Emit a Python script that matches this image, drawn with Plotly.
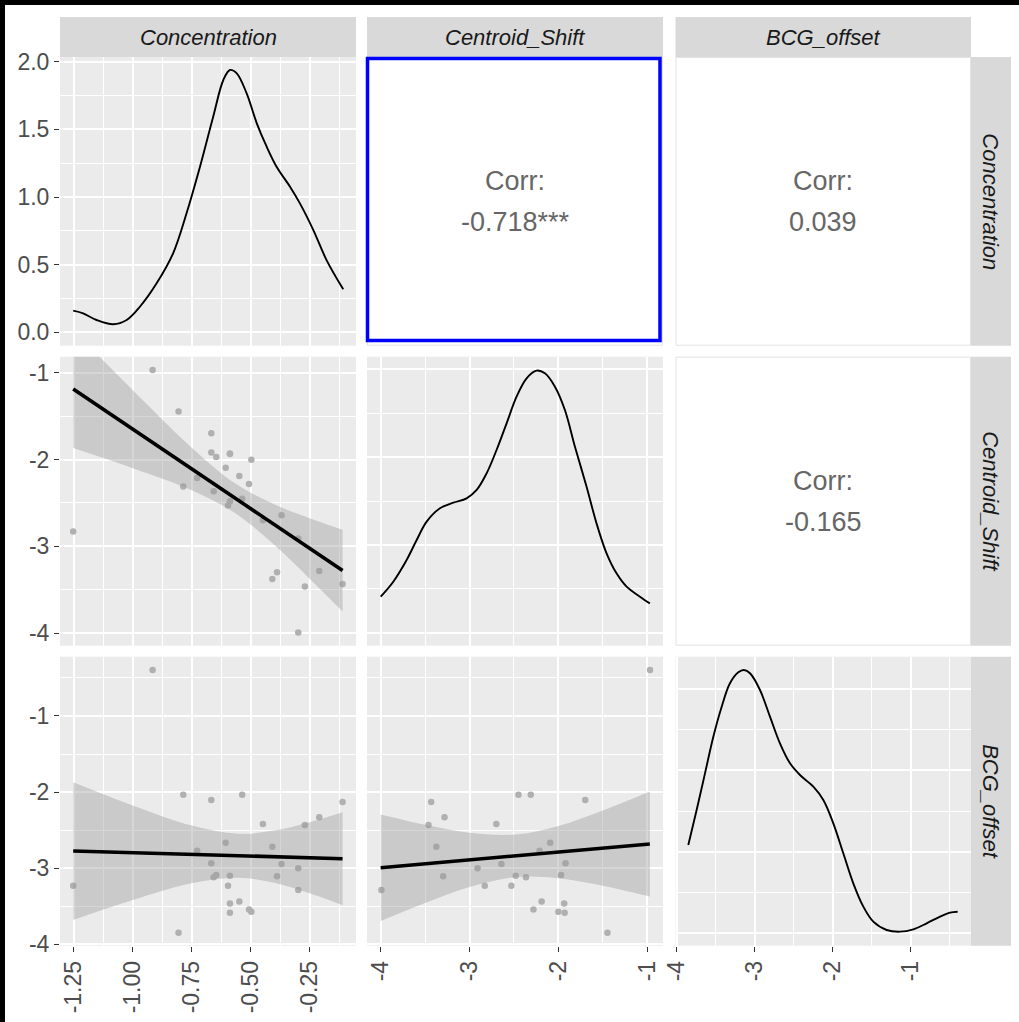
import plotly.graph_objects as go

W, H = 1019, 1022

concentration = [-1.253, -0.916, -0.806, -0.786, -0.727, -0.667, -0.667, -0.657, -0.646,
                 -0.606, -0.596, -0.588, -0.588, -0.588, -0.548, -0.536, -0.507, -0.497,
                 -0.448, -0.408, -0.388, -0.369, -0.298, -0.298, -0.270, -0.209, -0.110]
centroid_shift = [-2.829, -0.969, -1.448, -2.311, -2.212, -1.698, -1.920, -2.365, -1.970,
                  -2.093, -2.530, -1.935, -2.480, -1.930, -2.189, -2.450, -2.281, -2.001,
                  -2.699, -3.374, -3.297, -2.641, -2.910, -3.992, -3.462, -3.282, -3.432]
bcg_offset = [-3.230, -0.396, -3.847, -2.034, -2.770, -2.104, -2.936, -3.120, -3.089,
              -2.665, -3.230, -3.462, -3.098, -3.585, -3.436, -2.034, -3.541, -3.571,
              -2.419, -2.717, -3.107, -2.945, -3.002, -3.287, -2.432, -2.332, -2.130]

# density curves on the diagonal
conc_dens_x = [-1.253, -1.2105, -1.154, -1.083, -1.026, -0.970, -0.899, -0.829, -0.772, -0.715,
               -0.659, -0.616, -0.588, -0.559, -0.517, -0.474, -0.432, -0.390, -0.333, -0.291,
               -0.234, -0.178, -0.107]
conc_dens_y = [0.160, 0.140, 0.091, 0.059, 0.091, 0.189, 0.362, 0.584, 0.880, 1.224,
               1.594, 1.865, 1.939, 1.914, 1.766, 1.545, 1.372, 1.224, 1.076, 0.953,
               0.756, 0.534, 0.318]
cs_dens_x = [-4.000, -3.858, -3.708, -3.595, -3.483, -3.333, -3.183, -3.033, -2.920, -2.808,
             -2.696, -2.583, -2.471, -2.358, -2.246, -2.152, -2.039, -1.927, -1.814, -1.683,
             -1.571, -1.458, -1.346, -1.233, -1.083, -0.971]
cs_dens_y = [0.0821, 0.1162, 0.1656, 0.2112, 0.2529, 0.2833, 0.2962, 0.3061, 0.3251, 0.3630,
             0.4162, 0.4769, 0.5377, 0.5794, 0.5969, 0.5908, 0.5604, 0.5073, 0.4238, 0.3326,
             0.2491, 0.1808, 0.1352, 0.1049, 0.0821, 0.0669]
bcg_dens_x = [-3.851, -3.744, -3.637, -3.530, -3.423, -3.317, -3.210, -3.137, -3.060, -2.932,
              -2.804, -2.676, -2.547, -2.419, -2.248, -2.120, -1.992, -1.864, -1.736, -1.607,
              -1.479, -1.308, -1.137, -0.966, -0.795, -0.624, -0.496, -0.398]
bcg_dens_y = [0.2170, 0.3029, 0.3930, 0.4831, 0.5568, 0.6142, 0.6412, 0.6469, 0.6388, 0.5978,
              0.5323, 0.4668, 0.4176, 0.3889, 0.3603, 0.3275, 0.2702, 0.1965, 0.1228, 0.0654,
              0.0286, 0.0081, 0.0040, 0.0098, 0.0245, 0.0409, 0.0507, 0.0531]

# fitted lines with confidence bands
fit1_x = [-1.253, -1.0, -0.75, -0.5665, -0.4, -0.25, -0.110]
fit1_y = [-1.188, -1.651, -2.108, -2.444, -2.748, -3.023, -3.278]
fit1_hi = [-0.508, -1.202, -1.863, -2.274, -2.515, -2.675, -2.808]
fit1_lo = [-1.868, -2.100, -2.353, -2.614, -2.981, -3.371, -3.748]

fit2_x = [-1.253, -1.0, -0.75, -0.55, -0.4, -0.25, -0.110]
fit2_y = [-2.774, -2.796, -2.818, -2.836, -2.849, -2.863, -2.875]
fit2_hi = [-1.869, -2.175, -2.439, -2.546, -2.506, -2.396, -2.265]
fit2_lo = [-3.679, -3.417, -3.197, -3.126, -3.192, -3.330, -3.485]

fit3_x = [-4.0, -3.5, -3.0, -2.473, -2.0, -1.5, -0.971]
fit3_y = [-2.993, -2.942, -2.890, -2.836, -2.788, -2.736, -2.682]
fit3_hi = [-2.293, -2.428, -2.533, -2.556, -2.445, -2.241, -1.992]
fit3_lo = [-3.693, -3.456, -3.247, -3.116, -3.131, -3.231, -3.372]

variables = ["Concentration", "Centroid_Shift", "BCG_offset"]
corr_values = ["-0.718***", "0.039", "-0.165"]

conc_ticks = [-1.25, -1.00, -0.75, -0.50, -0.25]
conc_ticktext = ["-1.25", "-1.00", "-0.75", "-0.50", "-0.25"]
int_ticks = [-4, -3, -2, -1]
int_ticktext = ["-4", "-3", "-2", "-1"]
dens_ticks = [0.0, 0.5, 1.0, 1.5, 2.0]
dens_ticktext = ["0.0", "0.5", "1.0", "1.5", "2.0"]

# ---------------- layout geometry (pixels) ----------------
cols = [(60, 356), (367, 663), (675.5, 971)]
rows = [(57, 345.7), (356.7, 645.7), (656.7, 945.7)]


def xd(px):
    return px / W


def yd(px):
    return 1 - px / H


FONT = "Liberation Sans, Arial, sans-serif"
PANEL = "#EBEBEB"
STRIP = "#D9D9D9"
TICKFONT = dict(family=FONT, size=23, color="#4D4D4D")
STRIPFONT = dict(family=FONT, size=22, color="#1A1A1A", style="italic")

fig = go.Figure()

POINT = dict(color="rgb(176,176,176)", size=6.5)
BAND = "rgba(153,153,153,0.4)"


def scatter_panel(n, xs, ys, fx, fy, fhi, flo):
    ax = "" if n == 1 else str(n)
    fig.add_trace(go.Scatter(x=xs, y=ys, mode="markers", marker=POINT,
                             xaxis="x" + ax, yaxis="y" + ax, showlegend=False))
    fig.add_trace(go.Scatter(x=fx, y=flo, mode="lines", line=dict(width=0, shape="spline"),
                             xaxis="x" + ax, yaxis="y" + ax, showlegend=False))
    fig.add_trace(go.Scatter(x=fx, y=fhi, mode="lines", line=dict(width=0, shape="spline"),
                             fill="tonexty", fillcolor=BAND,
                             xaxis="x" + ax, yaxis="y" + ax, showlegend=False))
    fig.add_trace(go.Scatter(x=[fx[0], fx[-1]], y=[fy[0], fy[-1]], mode="lines",
                             line=dict(color="black", width=3.6),
                             xaxis="x" + ax, yaxis="y" + ax, showlegend=False))


def density_panel(n, xs, ys):
    ax = "" if n == 1 else str(n)
    fig.add_trace(go.Scatter(x=xs, y=ys, mode="lines",
                             line=dict(color="black", width=1.9, shape="spline", smoothing=1.0),
                             xaxis="x" + ax, yaxis="y" + ax, showlegend=False))


density_panel(1, conc_dens_x, conc_dens_y)
scatter_panel(2, concentration, centroid_shift, fit1_x, fit1_y, fit1_hi, fit1_lo)
density_panel(3, cs_dens_x, cs_dens_y)
scatter_panel(4, concentration, bcg_offset, fit2_x, fit2_y, fit2_hi, fit2_lo)
scatter_panel(5, centroid_shift, bcg_offset, fit3_x, fit3_y, fit3_hi, fit3_lo)
density_panel(6, bcg_dens_x, bcg_dens_y)


def axis(domain, rng, tickvals, ticktext, minor_tick0, minor_dtick, labels, anchor, angle=0):
    d = dict(domain=domain, range=rng, tickmode="array", tickvals=tickvals, ticktext=ticktext,
             showgrid=True, gridcolor="white", gridwidth=1.9, zeroline=False, showline=False,
             anchor=anchor, fixedrange=True, automargin=False,
             minor=dict(tick0=minor_tick0, dtick=minor_dtick, showgrid=True,
                        gridcolor="white", gridwidth=0.9, ticks=""),
             showticklabels=labels, tickfont=TICKFONT, tickangle=angle)
    if labels:
        d.update(ticks="outside", ticklen=5, tickwidth=1.3, tickcolor="#333333")
    else:
        d.update(ticks="")
    return d


cx = [[xd(a), xd(b)] for a, b in cols]
ry = [[yd(b), yd(a)] for a, b in rows]

xr = [[-1.309, -0.053], [-4.154, -0.823], [-4.015, -0.227]]
xt = [(conc_ticks, conc_ticktext, -1.375, 0.125), (int_ticks, int_ticktext, -4.5, 0.5),
      (int_ticks, int_ticktext, -4.5, 0.5)]

# panel -> (row, col)
panels = {1: (0, 0), 2: (1, 0), 3: (1, 1), 4: (2, 0), 5: (2, 1), 6: (2, 2)}
yspec = {
    1: ([-0.099, 2.035], dens_ticks, dens_ticktext, -0.25, 0.25),
    2: ([-4.143, -0.816], int_ticks, int_ticktext, -4.5, 0.5),
    3: ([-0.0296, 0.6287], [0.0, 0.2, 0.4, 0.6], ["", "", "", ""], -0.1, 0.1),
    4: ([-4.018, -0.221], int_ticks, int_ticktext, -4.5, 0.5),
    5: ([-4.018, -0.221], int_ticks, int_ticktext, -4.5, 0.5),
    6: ([-0.0305, 0.6796], [0.0, 0.2, 0.4, 0.6], ["", "", "", ""], -0.1, 0.1),
}

layout = {}
for n, (r, c) in panels.items():
    ax = "" if n == 1 else str(n)
    tv, tt, m0, md = xt[c]
    layout["xaxis" + ax] = axis(cx[c], xr[c], tv, tt, m0, md, r == 2, "y" + ax, angle=-90)
    rng, ytv, ytt, ym0, ymd = yspec[n]
    layout["yaxis" + ax] = axis(ry[r], rng, ytv, ytt, ym0, ymd, c == 0, "x" + ax)

shapes = []
annotations = []

# black edge strips
shapes.append(dict(type="rect", xref="paper", yref="paper", x0=0, x1=1, y0=yd(5), y1=1,
                   fillcolor="black", line=dict(width=0), layer="above"))
shapes.append(dict(type="rect", xref="paper", yref="paper", x0=0, x1=xd(5), y0=0, y1=1,
                   fillcolor="black", line=dict(width=0), layer="above"))

# top strips
for c, (a, b) in enumerate(cols):
    shapes.append(dict(type="rect", xref="paper", yref="paper", x0=xd(a), x1=xd(b),
                       y0=yd(57), y1=yd(17), fillcolor=STRIP, line=dict(width=0), layer="below"))
    annotations.append(dict(x=xd((a + b) / 2), y=yd(37.5), xref="paper", yref="paper",
                            xanchor="center", yanchor="middle",
                            text=variables[c], showarrow=False, font=STRIPFONT))
# right strips
for r, (a, b) in enumerate(rows):
    shapes.append(dict(type="rect", xref="paper", yref="paper", x0=xd(971), x1=xd(1011),
                       y0=yd(b), y1=yd(a), fillcolor=STRIP, line=dict(width=0), layer="below"))
    annotations.append(dict(x=xd(991), y=yd((a + b) / 2), xref="paper", yref="paper",
                            xanchor="center", yanchor="middle",
                            text=variables[r], showarrow=False, textangle=90, font=STRIPFONT))

# correlation panels
corr_cells = [(0, 1), (0, 2), (1, 2)]
for (r, c), val in zip(corr_cells, corr_values):
    a, b = cols[c]
    t, btm = rows[r]
    shapes.append(dict(type="rect", xref="paper", yref="paper", x0=xd(a + 0.5), x1=xd(b - 0.5),
                       y0=yd(btm - 0.5), y1=yd(t + 0.5), fillcolor="white",
                       line=dict(width=1, color="#E3E3E3"), layer="below"))
    mid = (t + btm) / 2
    annotations.append(dict(x=xd((a + b) / 2), y=yd(mid - 20.5), xref="paper", yref="paper",
                            xanchor="center", yanchor="middle",
                            text="Corr:", showarrow=False,
                            font=dict(family=FONT, size=27, color="#666666")))
    annotations.append(dict(x=xd((a + b) / 2), y=yd(mid + 21), xref="paper", yref="paper",
                            xanchor="center", yanchor="middle",
                            text=val, showarrow=False,
                            font=dict(family=FONT, size=27, color="#666666")))

# blue highlight box
shapes.append(dict(type="rect", xref="paper", yref="paper", x0=xd(367.5), x1=xd(660),
                   y0=yd(340.5), y1=yd(58.5), line=dict(color="#0000FF", width=3.5),
                   fillcolor="rgba(0,0,0,0)", layer="above"))

fig.update_layout(**layout)
fig.update_layout(width=W, height=H, margin=dict(l=0, r=0, t=0, b=0),
                  paper_bgcolor="white", plot_bgcolor=PANEL, shapes=shapes,
                  annotations=annotations, showlegend=False,
                  font=dict(family=FONT))

fig.write_html("out.html")
